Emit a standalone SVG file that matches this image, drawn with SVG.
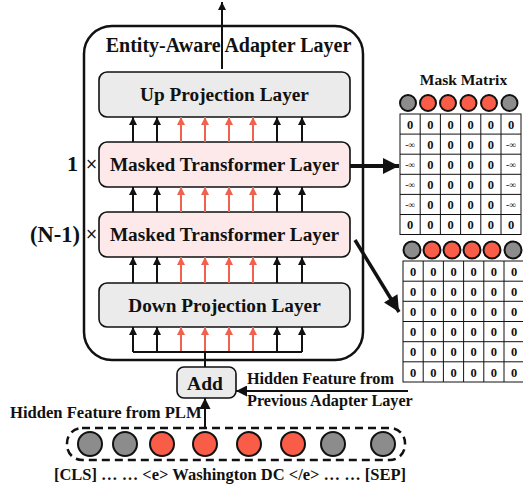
<svg xmlns="http://www.w3.org/2000/svg" width="523" height="489" viewBox="0 0 523 489">
<defs>
<style>
.t{font-family:"Liberation Serif","Times New Roman",serif;font-weight:bold;fill:#111}
.box{stroke:#111;stroke-width:1.6}
.gray{fill:#ebebeb}
.pink{fill:#fde9e9}
.ab{stroke:#111;stroke-width:2;fill:none}
.ar{stroke:#f0624e;stroke-width:2;fill:none}
.cg{fill:#8c8c8c;stroke:#111;stroke-width:2}
.cr{fill:#f95c47;stroke:#111;stroke-width:2}
.cell{fill:#fff;stroke:#111;stroke-width:1}
.z{font-family:"Liberation Serif",serif;font-weight:bold;font-size:12.5px;fill:#111;text-anchor:middle}
.inf{font-family:"Liberation Serif",serif;font-size:9.5px;fill:#111;text-anchor:middle}
</style>
<marker id="hb" viewBox="0 0 10 10" refX="10" refY="5" markerWidth="9" markerHeight="8" markerUnits="userSpaceOnUse" orient="auto"><path d="M0,0 L10,5 L0,10 z" fill="#111"/></marker>
<marker id="hr" viewBox="0 0 10 10" refX="10" refY="5" markerWidth="9" markerHeight="8" markerUnits="userSpaceOnUse" orient="auto"><path d="M0,0 L10,5 L0,10 z" fill="#f0624e"/></marker>
<marker id="hbig" viewBox="0 0 10 10" refX="10" refY="5" markerWidth="17" markerHeight="16" markerUnits="userSpaceOnUse" orient="auto"><path d="M0,0 L10,5 L0,10 z" fill="#111"/></marker>
<marker id="hm" viewBox="0 0 10 10" refX="10" refY="5" markerWidth="11" markerHeight="11" markerUnits="userSpaceOnUse" orient="auto"><path d="M0,0 L10,5 L0,10 z" fill="#111"/></marker>
</defs>

<g id="adapter">
<rect x="84" y="26" width="279" height="334" rx="28" fill="none" stroke="#111" stroke-width="2.5"/>
<text class="t" x="228.5" y="52" font-size="20" text-anchor="middle">Entity-Aware Adapter Layer</text>
</g>

<g id="up-projection">
<rect class="box gray" x="99" y="72" width="251" height="45" rx="8"/>
<text class="t" x="224.5" y="101" font-size="19.3" text-anchor="middle">Up Projection Layer</text>
</g>

<g id="masked-1">
<rect class="box pink" x="99" y="142" width="251" height="45" rx="8"/>
<text class="t" x="224.5" y="171" font-size="19.3" text-anchor="middle">Masked Transformer Layer</text>
<text class="t" x="78" y="171" font-size="22" text-anchor="end">1</text>
<text x="91.5" y="169" font-family="'DejaVu Sans',sans-serif" font-size="15" text-anchor="middle" fill="#111">×</text>
</g>

<g id="masked-2">
<rect class="box pink" x="99" y="212" width="251" height="45" rx="8"/>
<text class="t" x="224.5" y="241" font-size="19.3" text-anchor="middle">Masked Transformer Layer</text>
<text class="t" x="80" y="242" font-size="22.5" text-anchor="end">(N-1)</text>
<text x="91.5" y="239" font-family="'DejaVu Sans',sans-serif" font-size="15" text-anchor="middle" fill="#111">×</text>
</g>

<g id="down-projection">
<rect class="box gray" x="99" y="283" width="251" height="44" rx="8"/>
<text class="t" x="224.5" y="312" font-size="19.3" text-anchor="middle">Down Projection Layer</text>
</g>

<g id="add">
<rect class="box gray" x="177" y="367" width="59" height="31" rx="7" stroke-width="1.8"/>
<text class="t" x="205" y="390" font-size="19.5" text-anchor="middle">Add</text>
</g>

<g id="tokens">
<rect x="67" y="428" width="338" height="32" rx="15" fill="none" stroke="#111" stroke-width="2.5" stroke-dasharray="8,5"/>
<circle class="cg" cx="90" cy="444" r="12"/>
<circle class="cg" cx="125" cy="444" r="12"/>
<circle class="cr" cx="162" cy="444" r="12"/>
<circle class="cr" cx="205" cy="444" r="12"/>
<circle class="cr" cx="249" cy="444" r="12"/>
<circle class="cr" cx="293" cy="444" r="12"/>
<circle class="cg" cx="333" cy="444" r="12"/>
<circle class="cg" cx="383" cy="444" r="12"/>
<text class="t" x="230" y="480" font-size="16.5" text-anchor="middle">[CLS] …  … &lt;e&gt; Washington DC &lt;/e&gt; … … [SEP]</text>
</g>

<g id="labels">
<text class="t" x="10" y="418" font-size="16.6">Hidden Feature from PLM</text>
<text class="t" x="247" y="384" font-size="16.2">Hidden Feature from</text>
<text class="t" x="247" y="406" font-size="16.2">Previous Adapter Layer</text>
</g>

<g id="mask-matrix-1">
<text class="t" x="463.5" y="85" font-size="15.5" text-anchor="middle">Mask Matrix</text>
<circle class="cg" cx="408" cy="103" r="8"/>
<circle class="cr" cx="428" cy="103" r="8"/>
<circle class="cr" cx="448" cy="103" r="8"/>
<circle class="cr" cx="468.5" cy="103" r="8"/>
<circle class="cr" cx="489" cy="103" r="8"/>
<circle class="cg" cx="509.5" cy="103" r="8"/>
<g transform="translate(400,114)">
<rect class="cell" x="0" y="0" width="121" height="120.5"/>
<path d="M20.2,0V120.5M40.4,0V120.5M60.6,0V120.5M80.8,0V120.5M101,0V120.5M0,20.1H121M0,40.2H121M0,60.3H121M0,80.4H121M0,100.5H121" stroke="#111" stroke-width="1"/>
<g class="z">
<text x="10.1" y="14.5">0</text><text x="30.3" y="14.5">0</text><text x="50.5" y="14.5">0</text><text x="70.7" y="14.5">0</text><text x="90.9" y="14.5">0</text><text x="111" y="14.5">0</text>
<text x="30.3" y="34.5">0</text><text x="50.5" y="34.5">0</text><text x="70.7" y="34.5">0</text><text x="90.9" y="34.5">0</text>
<text x="30.3" y="54.5">0</text><text x="50.5" y="54.5">0</text><text x="70.7" y="54.5">0</text><text x="90.9" y="54.5">0</text>
<text x="30.3" y="74.5">0</text><text x="50.5" y="74.5">0</text><text x="70.7" y="74.5">0</text><text x="90.9" y="74.5">0</text>
<text x="30.3" y="94.5">0</text><text x="50.5" y="94.5">0</text><text x="70.7" y="94.5">0</text><text x="90.9" y="94.5">0</text>
<text x="10.1" y="115">0</text><text x="30.3" y="115">0</text><text x="50.5" y="115">0</text><text x="70.7" y="115">0</text><text x="90.9" y="115">0</text><text x="111" y="115">0</text>
</g>
<g class="inf">
<text x="10.1" y="33.5">-∞</text><text x="111" y="33.5">-∞</text>
<text x="10.1" y="53.5">-∞</text><text x="111" y="53.5">-∞</text>
<text x="10.1" y="73.5">-∞</text><text x="111" y="73.5">-∞</text>
<text x="10.1" y="93.5">-∞</text><text x="111" y="93.5">-∞</text>
</g>
</g>
</g>

<g id="mask-matrix-2">
<circle class="cg" cx="412" cy="250" r="8.5"/>
<circle class="cr" cx="432" cy="250" r="8.5"/>
<circle class="cr" cx="452" cy="250" r="8.5"/>
<circle class="cr" cx="472" cy="250" r="8.5"/>
<circle class="cr" cx="492" cy="250" r="8.5"/>
<circle class="cg" cx="513" cy="250" r="8.5"/>
<g transform="translate(403,261)">
<rect class="cell" x="0" y="0" width="121" height="121"/>
<path d="M20.2,0V121M40.4,0V121M60.6,0V121M80.8,0V121M101,0V121M0,20.2H121M0,40.3H121M0,60.5H121M0,80.7H121M0,100.8H121" stroke="#111" stroke-width="1"/>
<g class="z">
<text x="10.1" y="14.5">0</text><text x="30.3" y="14.5">0</text><text x="50.5" y="14.5">0</text><text x="70.7" y="14.5">0</text><text x="90.9" y="14.5">0</text><text x="111" y="14.5">0</text>
<text x="10.1" y="34.5">0</text><text x="30.3" y="34.5">0</text><text x="50.5" y="34.5">0</text><text x="70.7" y="34.5">0</text><text x="90.9" y="34.5">0</text><text x="111" y="34.5">0</text>
<text x="10.1" y="54.5">0</text><text x="30.3" y="54.5">0</text><text x="50.5" y="54.5">0</text><text x="70.7" y="54.5">0</text><text x="90.9" y="54.5">0</text><text x="111" y="54.5">0</text>
<text x="10.1" y="75">0</text><text x="30.3" y="75">0</text><text x="50.5" y="75">0</text><text x="70.7" y="75">0</text><text x="90.9" y="75">0</text><text x="111" y="75">0</text>
<text x="10.1" y="95">0</text><text x="30.3" y="95">0</text><text x="50.5" y="95">0</text><text x="70.7" y="95">0</text><text x="90.9" y="95">0</text><text x="111" y="95">0</text>
<text x="10.1" y="115.5">0</text><text x="30.3" y="115.5">0</text><text x="50.5" y="115.5">0</text><text x="70.7" y="115.5">0</text><text x="90.9" y="115.5">0</text><text x="111" y="115.5">0</text>
</g>
</g>
</g>

<g id="connectors">
<line class="ab" x1="222" y1="69" x2="222" y2="2" marker-end="url(#hb)"/>
<g id="row1">
<line class="ab" x1="133" y1="142" x2="133" y2="117" marker-end="url(#hb)"/>
<line class="ab" x1="157" y1="142" x2="157" y2="117" marker-end="url(#hb)"/>
<line class="ar" x1="181" y1="142" x2="181" y2="117" marker-end="url(#hr)"/>
<line class="ar" x1="205" y1="142" x2="205" y2="117" marker-end="url(#hr)"/>
<line class="ar" x1="229" y1="142" x2="229" y2="117" marker-end="url(#hr)"/>
<line class="ar" x1="253" y1="142" x2="253" y2="117" marker-end="url(#hr)"/>
<line class="ab" x1="277" y1="142" x2="277" y2="117" marker-end="url(#hb)"/>
<line class="ab" x1="302" y1="142" x2="302" y2="117" marker-end="url(#hb)"/>
</g>
<g id="row2">
<line class="ab" x1="133" y1="212" x2="133" y2="187" marker-end="url(#hb)"/>
<line class="ab" x1="157" y1="212" x2="157" y2="187" marker-end="url(#hb)"/>
<line class="ar" x1="181" y1="212" x2="181" y2="187" marker-end="url(#hr)"/>
<line class="ar" x1="205" y1="212" x2="205" y2="187" marker-end="url(#hr)"/>
<line class="ar" x1="229" y1="212" x2="229" y2="187" marker-end="url(#hr)"/>
<line class="ar" x1="253" y1="212" x2="253" y2="187" marker-end="url(#hr)"/>
<line class="ab" x1="277" y1="212" x2="277" y2="187" marker-end="url(#hb)"/>
<line class="ab" x1="302" y1="212" x2="302" y2="187" marker-end="url(#hb)"/>
</g>
<g id="row3">
<line class="ab" x1="133" y1="283" x2="133" y2="257" marker-end="url(#hb)"/>
<line class="ab" x1="157" y1="283" x2="157" y2="257" marker-end="url(#hb)"/>
<line class="ar" x1="181" y1="283" x2="181" y2="257" marker-end="url(#hr)"/>
<line class="ar" x1="205" y1="283" x2="205" y2="257" marker-end="url(#hr)"/>
<line class="ar" x1="229" y1="283" x2="229" y2="257" marker-end="url(#hr)"/>
<line class="ar" x1="253" y1="283" x2="253" y2="257" marker-end="url(#hr)"/>
<line class="ab" x1="277" y1="283" x2="277" y2="257" marker-end="url(#hb)"/>
<line class="ab" x1="302" y1="283" x2="302" y2="257" marker-end="url(#hb)"/>
</g>
<g id="row4">
<path class="ab" d="M133,352H302M205,352V367"/>
<line class="ab" x1="133" y1="352" x2="133" y2="327" marker-end="url(#hb)"/>
<line class="ab" x1="157" y1="352" x2="157" y2="327" marker-end="url(#hb)"/>
<line class="ar" x1="181" y1="351" x2="181" y2="327" marker-end="url(#hr)"/>
<line class="ar" x1="205" y1="351" x2="205" y2="327" marker-end="url(#hr)"/>
<line class="ar" x1="229" y1="351" x2="229" y2="327" marker-end="url(#hr)"/>
<line class="ar" x1="253" y1="351" x2="253" y2="327" marker-end="url(#hr)"/>
<line class="ab" x1="277" y1="352" x2="277" y2="327" marker-end="url(#hb)"/>
<line class="ab" x1="302" y1="352" x2="302" y2="327" marker-end="url(#hb)"/>
</g>
<line class="ab" x1="205" y1="428" x2="205" y2="398" marker-end="url(#hm)"/>
<line class="ab" x1="408" y1="391" x2="236" y2="391" marker-end="url(#hm)"/>
<line x1="350" y1="166" x2="399" y2="166" stroke="#111" stroke-width="4" marker-end="url(#hbig)"/>
<line x1="355" y1="240" x2="399" y2="312" stroke="#111" stroke-width="3.5" marker-end="url(#hbig)"/>
</g>
</svg>
